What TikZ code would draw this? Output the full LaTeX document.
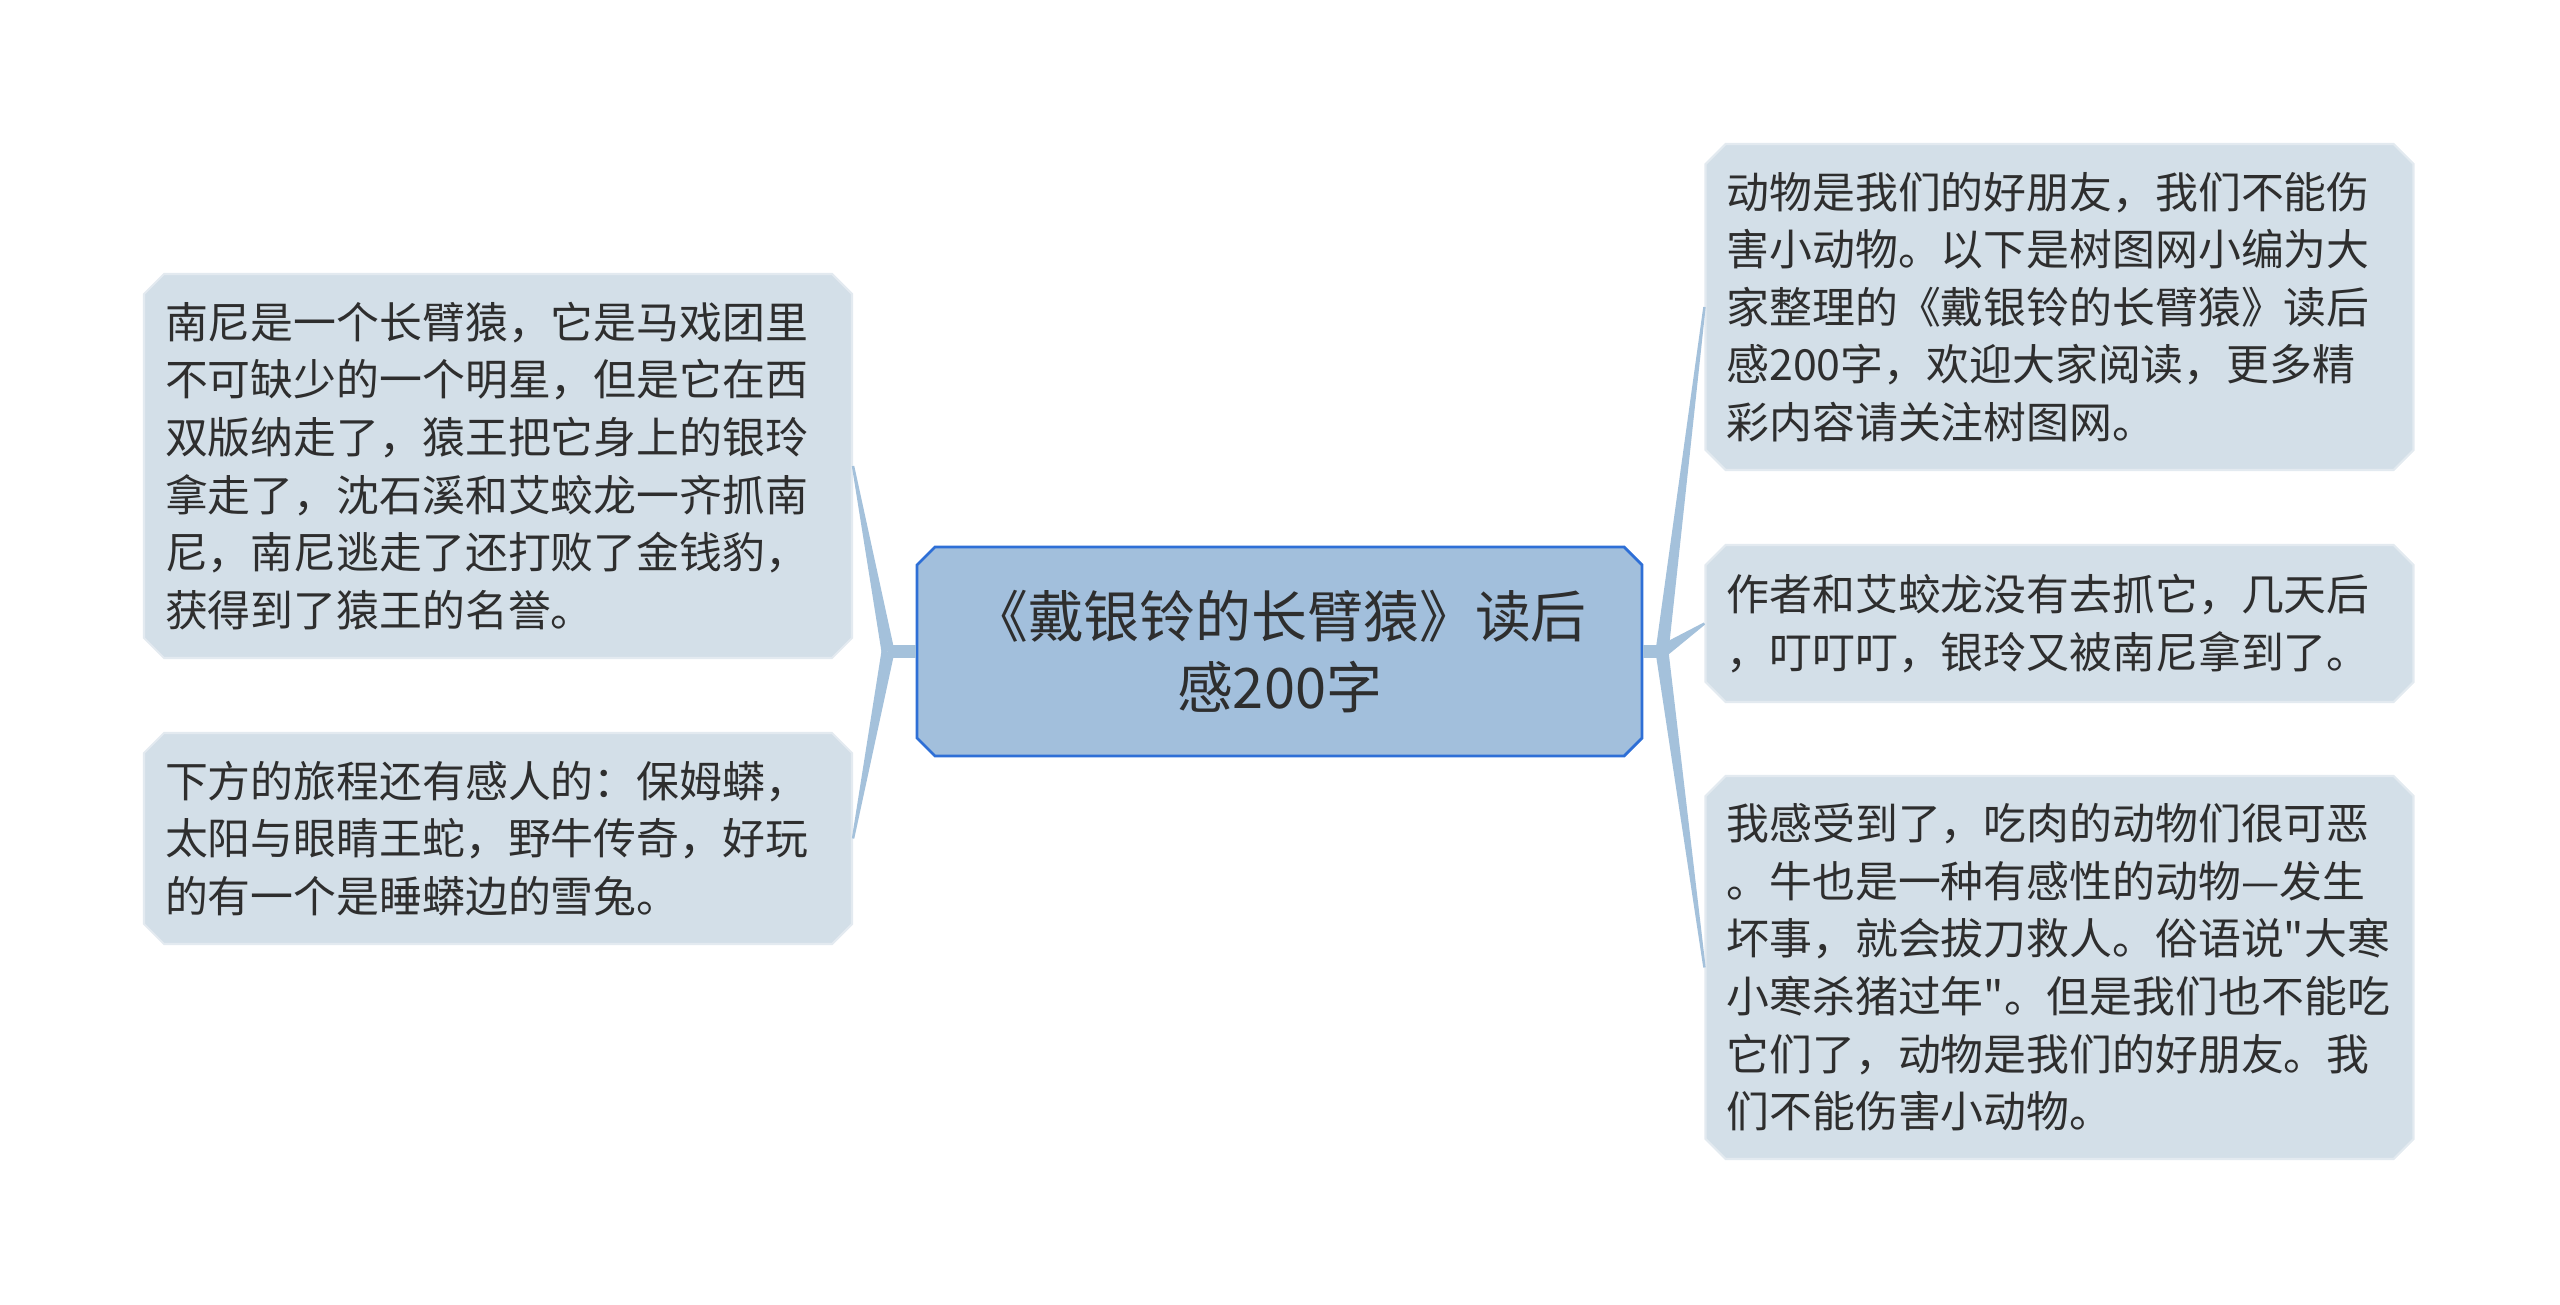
\documentclass[tikz,border=0pt]{standalone}
\usepackage{fontspec}
\setmainfont{Noto Sans CJK SC}[Ligatures=TeXOff]
\usetikzlibrary{shapes.misc,calc,positioning}
\usepackage{xcolor}

\definecolor{leaffill}{HTML}{D3DFE8}
\definecolor{leafline}{HTML}{E3EAF0}
\definecolor{topicfill}{HTML}{A2BFDC}
\definecolor{topicline}{HTML}{2E6FD6}
\definecolor{twigcol}{HTML}{A4C1DB}
\definecolor{inkcol}{HTML}{2E2E2E}

% tapered connector from a junction to a node side
\newcommand{\twig}[2]{%
  \fill[twigcol] ($(#1)!0.065cm!90:(#2)$) -- ($(#2)!0.012cm!-90:(#1)$)
    -- ($(#2)!0.012cm!90:(#1)$) -- ($(#1)!0.065cm!-90:(#2)$) -- cycle;}

\begin{document}
\begin{tikzpicture}[
				topic/.style={chamfered rectangle,chamfered rectangle xsep=0.07cm,chamfered rectangle ysep=0.11cm,
					draw=topicline,line width=0.8pt,fill=topicfill,minimum width=7.25cm,minimum height=2.09cm,
					align=center,text=inkcol,font=\fontsize{15.9pt}{20.4pt}\selectfont},
				leaf/.style={chamfered rectangle,chamfered rectangle xsep=0.10cm,chamfered rectangle ysep=0.10cm,
					draw=leafline,line width=0.6pt,fill=leaffill,text width=6.66cm,inner xsep=0.11cm,
					align=left,text=inkcol,font=\fontsize{12.2pt}{16.4pt}\selectfont},
				stub/.style={line width=0.13cm,draw=twigcol}
				]
				\useasboundingbox (0,0) rectangle (25.6,13.04);
				
				% centro
				\node[topic] (main) at (12.795,6.525) {《戴银铃的长臂猿》读后\\感200字};
				
				% rami a sinistra
				\node[leaf,minimum height=3.84cm] (nanni) at (4.98,8.38) {南尼是一个长臂猿，它是马戏团里\\不可缺少的一个明星，但是它在西\\双版纳走了，猿王把它身上的银玲\\拿走了，沈石溪和艾蛟龙一齐抓南\\尼，南尼逃走了还打败了金钱豹，\\获得到了猿王的名誉。};
				\node[leaf,minimum height=2.11cm] (journey) at (4.98,4.655) {下方的旅程还有感人的：保姆蟒，\\太阳与眼睛王蛇，野牛传奇，好玩\\的有一个是睡蟒边的雪兔。};
				
				% rami a destra
				\node[leaf,minimum height=3.26cm] (intro) at (20.595,9.97) {动物是我们的好朋友，我们不能伤\\害小动物。以下是树图网小编为大\\家整理的《戴银铃的长臂猿》读后\\感200字，欢迎大家阅读，更多精\\彩内容请关注树图网。};
				\node[leaf,minimum height=1.57cm] (author) at (20.595,6.805) {作者和艾蛟龙没有去抓它，几天后\\，叮叮叮，银玲又被南尼拿到了。};
				\node[leaf,minimum height=3.83cm] (feeling) at (20.595,3.365) {我感受到了，吃肉的动物们很可恶\\。牛也是一种有感性的动物—发生\\坏事，就会拔刀救人。俗语说"大寒\\小寒杀猪过年"。但是我们也不能吃\\它们了，动物是我们的好朋友。我\\们不能伤害小动物。};
				
				% giunzioni
				\coordinate (jleft) at (8.88,6.525);
				\coordinate (jright) at (16.62,6.525);
				
				% connessioni
				\draw[stub] (main.west) -- (jleft);
				\draw[stub] (main.east) -- (jright);
				\twig{jleft}{nanni.east}
				\twig{jleft}{journey.east}
				\twig{jright}{intro.west}
				\twig{jright}{author.west}
				\twig{jright}{feeling.west}
				
\end{tikzpicture}
\end{document}
